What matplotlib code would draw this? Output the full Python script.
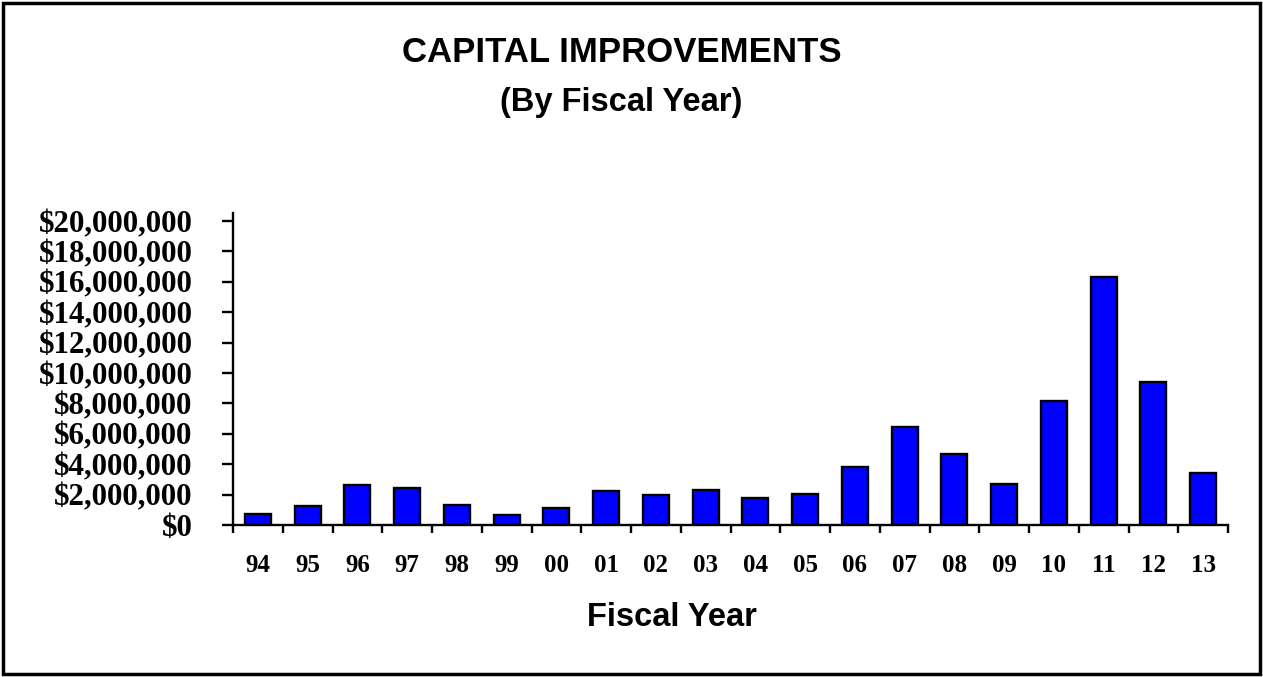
import matplotlib.pyplot as plt
from matplotlib.patches import Rectangle
from matplotlib.ticker import FuncFormatter, FixedLocator
import numpy as np

# fiscal years and capital improvement spending (dollars)
years = ["94", "95", "96", "97", "98", "99", "00", "01", "02", "03",
         "04", "05", "06", "07", "08", "09", "10", "11", "12", "13"]
amounts = [720000, 1270000, 2630000, 2450000, 1340000, 660000, 1100000,
           2240000, 1970000, 2280000, 1800000, 2020000, 3840000, 6430000,
           4690000, 2700000, 8140000, 16300000, 9410000, 3400000]
y_ticks = [0, 2e6, 4e6, 6e6, 8e6, 10e6, 12e6, 14e6, 16e6, 18e6, 20e6]

fig = plt.figure(figsize=(12.63, 6.77), dpi=100)
ax = fig.add_axes([0.1845, 0.2245, 0.9723 - 0.1845, 0.6854 - 0.2245])

x = np.arange(len(years))
ax.bar(x, amounts, width=0.52, color="#0000FF", edgecolor="black", linewidth=1.7)

ax.set_xlim(-0.5, len(years) - 0.5)
ax.set_ylim(0, 20.53e6)

# y axis
ax.yaxis.set_major_locator(FixedLocator(y_ticks))
ax.yaxis.set_major_formatter(FuncFormatter(lambda v, p: f"${v:,.0f}"))
ax.tick_params(axis="y", direction="out", length=8, width=1.7, pad=21)
for lab in ax.get_yticklabels():
    lab.set_fontfamily("Liberation Serif")
    lab.set_fontweight("bold")
    lab.set_fontsize(22.2)

# x axis: labels at centers, tick marks between categories
ax.set_xticks(x)
ax.set_xticklabels(years, fontfamily="Liberation Serif", fontweight="bold", fontsize=18)
ax.tick_params(axis="x", which="major", length=0, pad=21)
ax.set_xticks(np.arange(len(years) + 1) - 0.5, minor=True)
ax.tick_params(axis="x", which="minor", direction="out", length=6, width=1.7)

for side in ["top", "right"]:
    ax.spines[side].set_visible(False)
for side in ["left", "bottom"]:
    ax.spines[side].set_linewidth(1.7)

fig.text(0.492, 1 - 53 / 677, "CAPITAL IMPROVEMENTS", ha="center", va="center",
         fontfamily="Liberation Sans", fontweight="bold", fontsize=25)
fig.text(0.492, 1 - 103 / 677, "(By Fiscal Year)", ha="center", va="center",
         fontfamily="Liberation Sans", fontweight="bold", fontsize=23.5)
fig.text(672 / 1263, 1 - 617 / 677, "Fiscal Year", ha="center", va="center",
         fontfamily="Liberation Sans", fontweight="bold", fontsize=23.5)

# outer border
fig.patches.append(Rectangle((0.0025, 0.004), 0.995, 0.992, transform=fig.transFigure,
                             fill=False, edgecolor="black", linewidth=2.5))

fig.savefig("out.png", dpi=100)
